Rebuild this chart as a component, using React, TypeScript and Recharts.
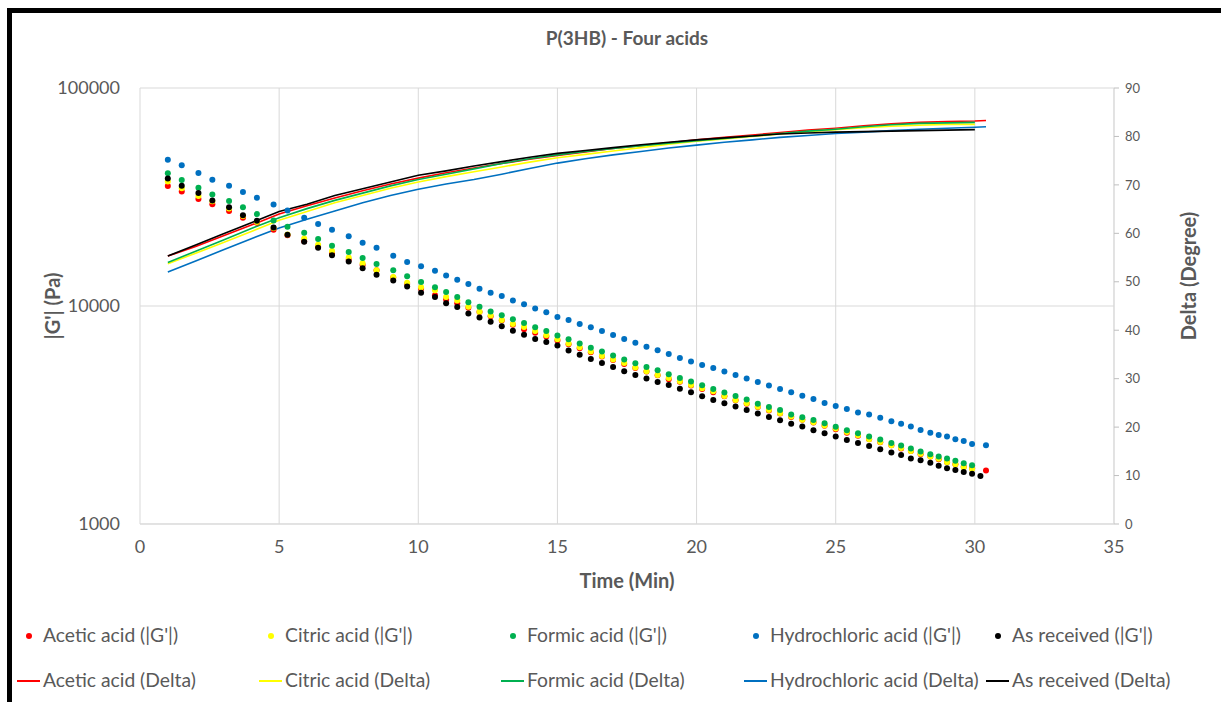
import React from "react";
import {
  ComposedChart,
  Scatter,
  Line,
  XAxis,
  YAxis,
  CartesianGrid,
  Label,
} from "recharts";

// sampling times (min) of the |G'| measurements
const times = [
  1.0, 1.5, 2.1, 2.6, 3.2, 3.7, 4.2, 4.8, 5.3, 5.9, 6.4, 6.9, 7.5, 8.0, 8.5, 9.1, 9.6, 10.1, 10.6,
  11.0, 11.4, 11.8, 12.2, 12.6, 13.0, 13.4, 13.8, 14.2, 14.6, 15.0, 15.4, 15.8, 16.2, 16.6, 17.0,
  17.4, 17.8, 18.2, 18.6, 19.0, 19.4, 19.8, 20.2, 20.6, 21.0, 21.4, 21.8,
  22.2, 22.6, 23.0, 23.4, 23.8, 24.2, 24.6, 25.0, 25.4, 25.8, 26.2, 26.6, 27.0, 27.35, 27.7, 28.05,
  28.4, 28.7, 29.0, 29.3, 29.6, 29.9, 30.2, 30.4,
];

// |G'| (Pa)
const aceticG = [
  35500, 33500, 31000, 29300, 27300, 25400, 24100, 22400, 21100, 19800, 18700, 17400, 16300, 15400, 14600, 13500, 12600, 12000, 11200,
  10700, 10300, 9820, 9380, 8970, 8570, 8200, 7830, 7530, 7240, 6950, 6670, 6400, 6140, 5870, 5650, 5420, 5200, 5000, 4810, 4610, 4490, 4320, 4160, 4020, 3850, 3700, 3560,
  3440, 3320, 3210, 3100, 3010, 2920, 2820, 2720, 2620, 2540, 2450, 2370, 2300, 2220, 2160, 2090, 2040, 1980, 1920, 1880, 1830, 1800, null,
  1760,
];
const citricG = [
  37200, 34700, 32000, 30200, 28000, 25900, 24300, 22800, 21300, 20400, 19100, 17900, 16700, 15700, 14600, 13600, 12800, 12200, 11800,
  11000, 10600, 9930, 9420, 9040, 8630, 8260, 8020, 7670, 7350, 7030, 6730, 6460, 6190, 5900, 5690, 5470, 5220, 5020, 4820, 4680, 4520, 4340, 4190, 4060, 3860, 3710, 3580,
  3450, 3330, 3220, 3110, 3010, 2930, 2830, 2740, 2640, 2550, 2450, 2380, 2300, 2230, 2160, 2100, 2040, 1990, 1920, 1880, 1820, 1790, null,
  null,
];
const formicG = [
  40600, 37800, 34900, 32500, 30300, 28400, 26400, 24700, 23100, 21700, 20300, 18900, 17700, 16600, 15600, 14600, 13700, 12900, 12200,
  11600, 11000, 10400, 9910, 9440, 9060, 8690, 8360, 8000, 7670, 7330, 7030, 6730, 6440, 6190, 5930, 5680, 5460, 5250, 5070, 4860, 4670, 4500, 4330, 4160, 4010, 3870, 3720,
  3560, 3440, 3330, 3180, 3090, 3000, 2900, 2790, 2690, 2610, 2520, 2440, 2350, 2290, 2220, 2150, 2090, 2040, 2000, 1950, 1900, 1860, null,
  null,
];
const hydrochloricG = [
  46900, 44200, 40700, 37900, 35600, 33300, 31400, 29200, 27400, 25400, 23800, 22400, 20900, 19500, 18500, 17000, 15900, 15200, 14500,
  13800, 13200, 12600, 12000, 11500, 11100, 10600, 10200, 9750, 9350, 8910, 8630, 8260, 7980, 7670, 7360, 7060, 6790, 6500, 6270, 6030, 5770, 5570, 5360, 5200, 5010, 4820, 4650,
  4480, 4320, 4160, 4020, 3880, 3740, 3590, 3480, 3370, 3250, 3180, 3070, 2960, 2880, 2800, 2700, 2620, 2560, 2520, 2450, 2400, 2330, null,
  2300,
];
const asReceivedG = [
  38400, 35600, 33000, 30500, 28400, 26100, 24600, 22900, 21200, 19700, 18500, 17100, 16000, 14900, 13900, 13100, 12300, 11500, 11000,
  10300, 9890, 9250, 8850, 8470, 8070, 7690, 7380, 7050, 6840, 6590, 6250, 5970, 5710, 5470, 5250, 5020, 4830, 4650, 4480, 4340, 4170, 4020, 3850, 3710, 3580, 3460, 3330,
  3210, 3100, 2990, 2880, 2800, 2690, 2610, 2520, 2430, 2350, 2280, 2200, 2130, 2070, 2000, 1960, 1910, 1850, 1800, 1770, 1730, 1700, 1660,
  null,
];

// Delta (degree)
const deltaTimes = [
  1, 2, 3, 4, 5, 6, 7, 8, 9, 10, 11, 12, 13, 14, 15, 16, 17, 18, 19, 20, 21, 22, 23, 24, 25, 26, 27, 28, 29, 30, 30.4,
];
const aceticDelta = [
  55.3, 57.3, 59.5, 61.7, 64.0, 65.7, 67.3, 68.8, 70.2, 71.4, 72.5, 73.5, 74.4, 75.3, 76.1, 76.8, 77.5, 78.1, 78.7, 79.3,
  79.8, 80.3, 80.8, 81.3, 81.7, 82.2, 82.6, 82.9, 83.1, 83.2, 83.3,
];
const citricDelta = [
  53.7, 55.9, 58.1, 60.4, 62.7, 64.5, 66.3, 67.8, 69.3, 70.6, 71.7, 72.7, 73.7, 74.7, 75.6, 76.3, 77.0, 77.7, 78.4, 79.0,
  79.5, 80.0, 80.5, 81.0, 81.4, 81.8, 82.1, 82.3, 82.5, 82.5, null,
];
const formicDelta = [
  54.0, 56.3, 58.6, 61.0, 63.2, 65.1, 66.8, 68.3, 69.8, 71.1, 72.2, 73.3, 74.4, 75.4, 76.2, 76.9, 77.5, 78.1, 78.6, 79.1,
  79.6, 80.1, 80.6, 81.1, 81.5, 82.0, 82.4, 82.7, 82.8, 82.9, null,
];
const hydrochloricDelta = [
  52.0, 54.3, 56.6, 58.9, 61.1, 62.9, 64.6, 66.3, 67.8, 69.1, 70.2, 71.1, 72.2, 73.4, 74.5, 75.4, 76.2, 76.9, 77.6, 78.2,
  78.8, 79.3, 79.8, 80.2, 80.6, 80.9, 81.2, 81.5, 81.7, 81.9, 82.0,
];
const asReceivedDelta = [
  55.3, 57.6, 59.9, 62.2, 64.5, 66.0, 67.8, 69.2, 70.6, 72.0, 72.9, 73.9, 74.8, 75.7, 76.5, 77.1, 77.7, 78.3, 78.8, 79.3,
  79.7, 80.1, 80.5, 80.7, 80.9, 81.0, 81.1, 81.2, 81.3, 81.4, null,
];

const xTicks = [0, 5, 10, 15, 20, 25, 30, 35];
const leftTicks = [1000, 10000, 100000];
const rightTicks = [0, 10, 20, 30, 40, 50, 60, 70, 80, 90];

const FONT = "Lato, 'Open Sans', sans-serif";
const TEXT = "#595959";
const GRID = "#d9d9d9";

const series = [
  { name: "Acetic acid", color: "#ff0000", g: aceticG, d: aceticDelta },
  { name: "Citric acid", color: "#ffff00", g: citricG, d: citricDelta },
  { name: "Formic acid", color: "#00b050", g: formicG, d: formicDelta },
  { name: "Hydrochloric acid", color: "#0070c0", g: hydrochloricG, d: hydrochloricDelta },
  { name: "As received", color: "#000000", g: asReceivedG, d: asReceivedDelta },
];

const toPoints = (vals: (number | null)[]) =>
  times.map((t, i) => ({ t, v: vals[i] })).filter((p) => p.v != null);

const toLine = (vals: (number | null)[]) =>
  deltaTimes.map((t, i) => ({ t, d: vals[i] })).filter((p) => p.d != null);

function AxisTitle({ x, y, text, rotate }: { x: number; y: number; text: string; rotate?: boolean }) {
  return (
    <text
      x={x}
      y={y}
      textAnchor="middle"
      dominantBaseline="central"
      transform={rotate ? `rotate(-90 ${x} ${y})` : undefined}
      fill={TEXT}
      style={{ fontSize: 20, fontWeight: "bold", fontFamily: FONT }}
    >
      {text}
    </text>
  );
}

const tickStyle = (size: number) => ({
  fill: TEXT,
  fontSize: size,
  fontFamily: FONT,
  style: { fontSize: size, fontFamily: FONT },
});

const legendCols = [43, 285, 527, 770, 1012];

function LegendRows() {
  const textStyle: React.CSSProperties = {
    position: "absolute",
    fontFamily: FONT,
    fontSize: 19.3,
    color: TEXT,
    whiteSpace: "nowrap",
    lineHeight: "24px",
  };
  return (
    <>
      {series.map((s, i) => (
        <React.Fragment key={s.name}>
          <div
            style={{
              position: "absolute",
              left: legendCols[i] - 17,
              top: 633,
              width: 6,
              height: 6,
              borderRadius: 3,
              background: s.color,
            }}
          />
          <div style={{ ...textStyle, left: legendCols[i], top: 623 }}>{s.name} (|G'|)</div>
          <div
            style={{
              position: "absolute",
              left: legendCols[i] - 26,
              top: 680,
              width: 23,
              height: 2,
              background: s.color,
            }}
          />
          <div style={{ ...textStyle, left: legendCols[i], top: 668 }}>{s.name} (Delta)</div>
        </React.Fragment>
      ))}
    </>
  );
}

export default function App() {
  return (
    <div
      style={{
        position: "absolute",
        left: 0,
        top: 0,
        width: 1221,
        height: 702,
        overflow: "hidden",
        background: "#fff",
      }}
    >
      <div
        style={{
          position: "absolute",
          left: 7,
          top: 8,
          width: 1240,
          height: 720,
          border: "5px solid #000",
        }}
      />
      <div
        style={{
          position: "absolute",
          left: 0,
          width: 1254,
          top: 26,
          textAlign: "center",
          fontFamily: FONT,
          fontSize: 19,
          fontWeight: "bold",
          color: TEXT,
        }}
      >
        P(3HB) - Four acids
      </div>
      <div style={{ position: "absolute", left: 0, top: 0 }}>
        <ComposedChart width={1221} height={702} margin={{ top: 88, right: 47, bottom: 108, left: 0 }}>
          <CartesianGrid stroke={GRID} yAxisId="left" />
          <XAxis
            dataKey="t"
            type="number"
            domain={[0, 35]}
            ticks={xTicks}
            height={70}
            allowDataOverflow
            axisLine={{ stroke: GRID }}
            tickLine={false}
            tickSize={6}
            tickMargin={10}
            fontSize={18}
            tick={tickStyle(18)}
          >
            <Label content={() => <AxisTitle x={627} y={580} text="Time (Min)" />} />
          </XAxis>
          <YAxis
            yAxisId="left"
            type="number"
            scale="log"
            domain={[1000, 100000]}
            ticks={leftTicks}
            allowDataOverflow
            width={140}
            axisLine={false}
            tickLine={false}
            tickSize={6}
            tickMargin={14}
            fontSize={18}
            tick={tickStyle(18)}
          >
            <Label content={() => <AxisTitle x={52} y={306} text="|G'| (Pa)" rotate />} />
          </YAxis>
          <YAxis
            yAxisId="right"
            orientation="right"
            type="number"
            domain={[0, 90]}
            ticks={rightTicks}
            width={60}
            axisLine={{ stroke: GRID }}
            tickLine={{ stroke: "#bfbfbf" }}
            tickSize={5}
            tickMargin={6}
            fontSize={13}
            tick={tickStyle(13)}
          >
            <Label content={() => <AxisTitle x={1188} y={276} text="Delta (Degree)" rotate />} />
          </YAxis>
          {series.map((s) => (
            <Scatter
              key={s.name + "-g"}
              name={`${s.name} (|G'|)`}
              yAxisId="left"
              data={toPoints(s.g)}
              dataKey="v"
              fill={s.color}
              isAnimationActive={false}
              shape={(p: any) => <circle cx={p.cx} cy={p.cy} r={3} fill={s.color} />}
            />
          ))}
          {series.map((s) => (
            <Line
              key={s.name + "-d"}
              name={`${s.name} (Delta)`}
              yAxisId="right"
              data={toLine(s.d)}
              dataKey="d"
              type="linear"
              stroke={s.color}
              strokeWidth={1.6}
              dot={false}
              activeDot={false}
              isAnimationActive={false}
            />
          ))}
        </ComposedChart>
      </div>
      <LegendRows />
    </div>
  );
}
